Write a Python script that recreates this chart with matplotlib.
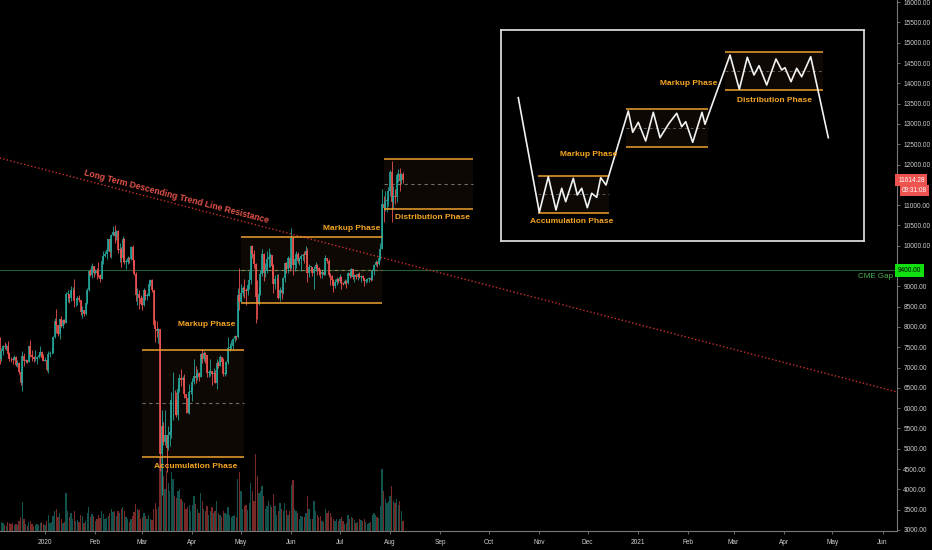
import matplotlib
matplotlib.use('Agg')
import matplotlib.pyplot as plt
import numpy as np
import pandas as pd

plt.rcParams['font.family'] = ['Liberation Sans', 'DejaVu Sans']

# ---------------- data: BTC daily candles, 2019-12-04 .. 2020-08-09 ----------------
start_date = '2019-12-04'
first_open = 7300
closes = [
    # Dec 2019
    7200, 7400, 7530, 7510, 7530, 7340, 7220, 7200, 7190, 7250, 7070, 7110, 6880, 6620,
    7280, 7150, 7190, 7140, 7520, 7320, 7250, 7200, 7200, 7250, 7320, 7390, 7240, 7170,
    # Jan 2020
    7180, 6950, 7340, 7350, 7360, 7760, 8150, 8040, 7820, 8190, 8020, 8180, 8110, 8810, 8810, 8710,
    8900, 8900, 8630, 8630, 8720, 8660, 8380, 8430, 8330, 8590, 8900, 9380, 9290, 9500, 9340,
    # Feb
    9380, 9330, 9290, 9180, 9620, 9750, 9800, 9900, 10160, 9850, 10270, 10350, 10240, 10370, 9900,
    9920, 9700, 10170, 9600, 9610, 9690, 9670, 9960, 9660, 9310, 8780, 8810, 8710, 8560,
    # Mar
    8530, 8910, 8760, 8760, 9070, 9150, 8900, 8040, 7940, 7890, 7950, 4860, 5560, 5170, 5350, 5020,
    5330, 5410, 6190, 6200, 6190, 5830, 6470, 6750, 6700, 6740, 6360, 6250, 5880, 6410, 6420,
    # Apr
    6640, 6800, 6740, 6860, 6780, 7340, 7200, 7370, 7300, 6860, 6890, 6920, 6850, 6860, 6620,
    7110, 7040, 7250, 7130, 6840, 6860, 7130, 7490, 7500, 7540, 7700, 7770, 7760, 8780, 8620,
    # May
    8830, 8970, 8900, 8880, 9030, 9150, 9990, 9810, 9540, 8730, 8570, 8820, 9310, 9790, 9320, 9380,
    9680, 9730, 9780, 9510, 9060, 9170, 9180, 8720, 8900, 8840, 9200, 9570, 9430, 9700, 9450,
    # Jun
    10200, 9520, 9670, 9790, 9620, 9670, 9750, 9780, 9770, 9870, 9320, 9470, 9470, 9340, 9430,
    9520, 9460, 9390, 9310, 9360, 9290, 9690, 9630, 9290, 9250, 9160, 9000, 9110, 9190, 9140,
    # Jul
    9230, 9090, 9070, 9140, 9080, 9340, 9250, 9430, 9240, 9290, 9240, 9300, 9240, 9250, 9200, 9130,
    9160, 9180, 9210, 9160, 9390, 9530, 9610, 9550, 9710, 9930, 11030, 10930, 11100, 11110, 11350,
    # Aug
    11810, 11070, 11230, 11190, 11750, 11770, 11600, 11760, 11614.28,
]
highs = [
    7750, 7480, 7560, 7620, 7580, 7650, 7390, 7270, 7260, 7310, 7290, 7180, 7130, 6940,
    7420, 7360, 7210, 7190, 7530, 7690, 7440, 7280, 7440, 7280, 7360, 7520, 7410, 7330,
    7250, 7200, 7400, 7400, 7500, 7780, 8210, 8450, 8050, 8200, 8270, 8190, 8190, 8870, 8900, 8810,
    9000, 8990, 9190, 8660, 8760, 8790, 8670, 8510, 8430, 8600, 8970, 9400, 9430, 9570, 9500,
    9440, 9460, 9600, 9300, 9730, 9860, 9880, 9950, 10170, 10150, 10290, 10480, 10500, 10390, 10380,
    10060, 9960, 10250, 10200, 9680, 9760, 9720, 9990, 10020, 9660, 9360, 8950, 8900, 8800,
    8750, 8950, 8910, 8840, 9150, 9170, 9190, 8900, 8170, 8150, 7980, 7950, 5950, 5650, 5950, 5350,
    5560, 5430, 6390, 6900, 6460, 6400, 6600, 6840, 6970, 6790, 6850, 6280, 6260, 6600, 6530,
    6740, 7200, 7030, 6970, 6880, 7360, 7470, 7420, 7380, 7310, 6950, 7200, 6920, 6980, 6940,
    7200, 7150, 7300, 7250, 7230, 6950, 7150, 7750, 7600, 7670, 7720, 7800, 7790, 8950, 9460,
    9050, 9010, 9180, 8950, 9070, 9380, 9990, 10030, 9900, 9570, 9160, 8980, 9400, 9930, 9830, 9580,
    9880, 9950, 9830, 9780, 9560, 9270, 9310, 9300, 8980, 9010, 9220, 9610, 9600, 9740, 9700,
    10430, 10230, 9690, 9880, 9850, 9720, 9800, 9800, 9870, 9990, 9950, 9560, 9500, 9480, 9500,
    9590, 9550, 9480, 9440, 9400, 9420, 9780, 9690, 9670, 9320, 9290, 9190, 9170, 9230, 9200,
    9300, 9260, 9120, 9190, 9150, 9360, 9370, 9450, 9440, 9310, 9300, 9320, 9350, 9280, 9270, 9210,
    9180, 9200, 9240, 9220, 9430, 9540, 9640, 9630, 9740, 10080, 11390, 11230, 11340, 11180, 11450,
    11860, 12090, 11480, 11410, 11800, 11900, 11920, 11800, 11820,
]
lows = [
    7080, 7170, 7310, 7460, 7430, 7280, 7170, 7130, 7090, 7190, 7030, 7020, 6850, 6560,
    6430, 7040, 7120, 7110, 7130, 7270, 7160, 7130, 7160, 7080, 7240, 7290, 7210, 7150,
    7150, 6910, 6870, 7270, 7330, 7350, 7730, 7860, 7770, 7700, 8000, 7980, 8070, 8110, 8620, 8600,
    8650, 8800, 8490, 8520, 8550, 8610, 8290, 8220, 8260, 8300, 8570, 8880, 9250, 9200, 9220,
    9300, 9170, 9230, 9100, 9170, 9540, 9730, 9670, 9880, 9730, 9710, 10250, 10080, 10150, 9820,
    9600, 9480, 9600, 9560, 9440, 9560, 9580, 9650, 9520, 9280, 8640, 8530, 8450, 8530,
    8410, 8520, 8660, 8670, 8760, 9020, 8870, 8020, 7640, 7750, 7600, 4450, 3850, 5100, 5100, 4440,
    4960, 5080, 5260, 5700, 5860, 5780, 5700, 6400, 6550, 6540, 6260, 5880, 5870, 5860, 6350,
    6170, 6600, 6620, 6700, 6680, 6780, 7120, 7150, 7120, 6770, 6770, 6800, 6580, 6780, 6610,
    6480, 6990, 7030, 7060, 6800, 6800, 6840, 7080, 7400, 7450, 7470, 7640, 7680, 7730, 8430,
    8610, 8760, 8720, 8530, 8780, 8930, 9050, 9700, 9450, 8110, 8200, 8540, 8780, 9260, 9140, 9220,
    9330, 9480, 9470, 9290, 8830, 8940, 9100, 8700, 8640, 8700, 8810, 9110, 9340, 9340, 9380,
    9420, 9270, 9380, 9460, 9580, 9530, 9380, 9640, 9570, 9690, 9100, 9240, 9400, 9250, 8930,
    9380, 9270, 9280, 9210, 9210, 9280, 9290, 9580, 9220, 9030, 9050, 8850, 8950, 9030, 9090,
    9090, 8940, 9040, 9050, 8960, 9060, 9210, 9240, 9180, 9120, 9190, 9150, 9200, 9120, 9160, 9000,
    9090, 9120, 9120, 9140, 9150, 9280, 9500, 9470, 9530, 9650, 9930, 10580, 10860, 10830, 10970,
    11220, 10580, 10920, 11020, 11080, 11560, 11360, 11530, 11540,
]
volumes = [
    12, 9, 8, 6, 5, 9, 8, 7, 8, 6, 7, 6, 10, 14, 29, 12, 7, 5, 9, 10, 7, 5, 6, 7, 6, 8, 9, 7,
    6, 10, 16, 8, 9, 15, 20, 22, 14, 18, 12, 8, 9, 38, 20, 14, 18, 12, 20, 10, 11, 9, 16, 15, 8, 10,
    18, 24, 14, 17, 15,
    10, 12, 16, 13, 20, 17, 12, 13, 15, 18, 22, 19, 20, 15, 20, 18, 22, 24, 20, 14, 12, 9, 12, 15,
    19, 27, 22, 21, 12,
    14, 18, 15, 12, 16, 12, 11, 22, 28, 22, 24, 100, 115, 55, 42, 60, 48, 40, 59, 52, 35, 33, 40,
    42, 32, 30, 28, 22, 24, 26, 20,
    26, 35, 27, 22, 18, 38, 30, 22, 20, 25, 16, 20, 24, 18, 20, 30, 18, 16, 14, 20, 18, 17, 24, 16,
    14, 15, 16, 14, 52, 59,
    40, 22, 25, 26, 21, 28, 48, 40, 30, 77, 55, 38, 40, 45, 35, 22, 25, 30, 26, 24, 37, 25, 16, 20,
    28, 22, 20, 28, 21, 16, 20,
    46, 51, 22, 20, 18, 12, 15, 14, 14, 18, 35, 22, 12, 12, 30, 20, 16, 14, 15, 10, 9, 22, 18, 20,
    18, 14, 12, 10, 12, 10,
    12, 14, 10, 7, 8, 16, 12, 14, 13, 11, 8, 9, 12, 11, 10, 12, 9, 7, 8, 9, 16, 18, 16, 14, 13, 25,
    62, 40, 32, 28, 30,
    35, 45, 30, 28, 32, 26, 30, 20, 10,
]

# axis ticks (9500 and 11500 are hidden behind the price labels in the reference)
month_dates = ['2020-01-01', '2020-02-01', '2020-03-01', '2020-04-01', '2020-05-01', '2020-06-01',
               '2020-07-01', '2020-08-01', '2020-09-01', '2020-10-01', '2020-11-01', '2020-12-01',
               '2021-01-01', '2021-02-01', '2021-03-01', '2021-04-01', '2021-05-01', '2021-06-01']
month_labels = ['2020', 'Feb', 'Mar', 'Apr', 'May', 'Jun', 'Jul', 'Aug', 'Sep', 'Oct', 'Nov', 'Dec',
                '2021', 'Feb', 'Mar', 'Apr', 'May', 'Jun']
price_ticks = [3000, 3500, 4000, 4500, 5000, 5500, 6000, 6500, 7000, 7500, 8000, 8500, 9000,
               10000, 10500, 11000, 12000, 12500, 13000, 13500, 14000, 14500, 15000, 15500, 16000]

# phase ranges (start date, end date, top, bottom, mid)
box_start = ['2020-03-01', '2020-05-01', '2020-07-28']
box_end = ['2020-05-03', '2020-07-27', '2020-09-21']
box_top = [7440, 10220, 12130]
box_bottom = [4800, 8590, 10910]
box_mid = [6120, 9400, 11520]
box_mid_color = ['#6e6e6e', '#8a8848', '#6e6e6e']

# phase labels
label_texts = ['Accumulation Phase', 'Markup Phase', 'Markup Phase', 'Distribution Phase']
label_dates = ['2020-04-03', '2020-04-10', '2020-07-08', '2020-08-27']
label_prices = [4576, 8049, 10414, 10685]

# trend line and CME gap
trend_dates = ['2019-12-04', '2021-06-10']
trend_prices = [12163, 6399]
trend_label_date = '2020-03-22'
trend_label_price = 11202
cme_gap_price = 9400
last_price = 11614.28
countdown = '09:31:08'

# inset schematic (sketch coordinates)
inset_x = [518.3, 539.3, 548.3, 556, 561.7, 565.7, 573.3, 577.3, 581.7, 587.3, 591.7, 596.7, 600.7,
           606, 628.3, 632.7, 638.3, 645.7, 653.3, 660, 669, 676.7, 681.7, 685.7, 692.7, 702, 705,
           730, 739.3, 747.3, 754, 759, 766.7, 776, 781.7, 785, 791, 796.7, 801.7, 810.7, 828.3]
inset_y = [97.7, 212.3, 176.7, 210, 188.3, 201.7, 178.3, 195, 188.3, 207.7, 193.3, 197.3, 177.7,
           185, 111, 132.3, 122.3, 141, 112.3, 137.7, 123.3, 113.3, 126.7, 121.7, 142.3, 112.3, 124.3,
           55, 89.3, 57.3, 75, 65.7, 85, 59, 70, 67.7, 81.7, 68.3, 76.7, 56.7, 137.7]
inset_box_x0 = [538.3, 626, 725]
inset_box_x1 = [609.3, 708.3, 823.3]
inset_box_top = [175.7, 109.3, 51.7]
inset_box_bottom = [213.3, 147.3, 90.3]
inset_box_mid = [194, 128.3, 71]
inset_label_texts = ['Accumulation Phase', 'Markup Phase', 'Markup Phase', 'Distribution Phase']
inset_label_x = [571.7, 588.3, 689, 774]
inset_label_y = [221.7, 154, 83.7, 100.3]

# ---------------- drawing ----------------
UP, DOWN = '#26a69a', '#ef5350'
ORANGE = '#f0a030'
ORANGE_TXT = '#f5a623'
FILL = '#0d0804'
BG = '#000000'
AXSIZE = 4.7

base = pd.Timestamp('2020-01-01')
def day(d):
    return (pd.Timestamp(d) - base).days

closes = np.array(closes, dtype=float)
highs = np.array(highs, dtype=float)
lows = np.array(lows, dtype=float)
volumes = np.array(volumes, dtype=float)
opens = np.r_[first_open, closes[:-1]]
dates = pd.date_range(start_date, periods=len(closes), freq='D')
x = np.array((dates - base).days, dtype=float)
up = closes >= opens
ccol = np.where(up, UP, DOWN)

fig = plt.figure(figsize=(9.32, 5.5), dpi=100, facecolor=BG)
rect = [0, 1 - 531 / 550, 897 / 932, 531 / 550]
xlim = (-27.8, 525.9)

axv = fig.add_axes(rect, facecolor=BG)
axv.bar(x, volumes, width=0.8, color=ccol, alpha=0.5, linewidth=0)
axv.set_xlim(*xlim)
axv.set_ylim(0, volumes.max() * 4.6)
axv.set_axis_off()

ax = fig.add_axes(rect, facecolor='none')
ax.set_xlim(*xlim)
ax.set_ylim(2975, 16054)

# phase boxes
for s, e, t, b, m, mc in zip(box_start, box_end, box_top, box_bottom, box_mid, box_mid_color):
    x0, x1 = day(s), day(e)
    ax.fill_between([x0, x1], [b, b], [t, t], color=FILL, lw=0, zorder=1)
    ax.hlines([t, b], x0, x1, colors=ORANGE, lw=1.1, zorder=4)
    ax.hlines(m, x0, x1, colors=mc, lw=0.8, linestyles=(0, (3, 3)), zorder=2)

# CME gap line
ax.axhline(cme_gap_price, color='#245f36', lw=0.8, zorder=1.5)

# trend line
ax.plot([day(d) for d in trend_dates], trend_prices, color='#c8302c', lw=1.0,
        ls=(0, (1, 1.6)), zorder=2.5)

# candles
body_lo = np.minimum(opens, closes)
body_hi = np.maximum(np.maximum(opens, closes), body_lo + 20)
ax.vlines(x, lows, highs, colors=ccol, lw=0.6, zorder=3)
ax.vlines(x, body_lo, body_hi, colors=ccol, lw=1.2, zorder=3)

# labels
for t, d, p in zip(label_texts, label_dates, label_prices):
    ax.text(day(d), p, t, color=ORANGE_TXT, fontsize=6, fontweight='bold',
            ha='center', va='center', zorder=6)
ax.text(day(trend_label_date), trend_label_price, 'Long Term Descending Trend Line Resistance',
        color='#e5534b', fontsize=6.2, fontweight='bold', rotation=-14.6,
        rotation_mode='anchor', ha='center', va='center', zorder=6)
ytr = ax.get_yaxis_transform()
ax.text(0.996, cme_gap_price - 145, 'CME Gap', transform=ytr, color='#4caf50', fontsize=5.8,
        ha='right', va='center', zorder=6)

# axes styling
ax.set_xticks([day(d) for d in month_dates])
ax.set_xticklabels(month_labels)
ax.set_yticks(price_ticks)
ax.set_yticklabels(['%.2f' % v for v in price_ticks])
ax.yaxis.tick_right()
for sp in ('top', 'left'):
    ax.spines[sp].set_visible(False)
for sp in ('right', 'bottom'):
    ax.spines[sp].set_color('#777777')
    ax.spines[sp].set_linewidth(0.8)
ax.tick_params(axis='both', colors='#777777', labelcolor='#d0d0d0', labelsize=AXSIZE,
               length=2.5, width=0.6)
ax.tick_params(axis='y', pad=2)
ax.tick_params(axis='x', pad=3.5)

# price-axis labels
ax.text(1.0012, cme_gap_price, '9400.00', transform=ytr, color='#000000', fontsize=AXSIZE,
        ha='left', va='center', clip_on=False, zorder=10,
        bbox=dict(boxstyle='square,pad=0.45', fc='#10e010', ec='none'))
ax.text(1.0012, last_price, '%.2f' % last_price, transform=ytr, color='#ffffff', fontsize=AXSIZE,
        ha='left', va='center', clip_on=False, zorder=10,
        bbox=dict(boxstyle='square,pad=0.4', fc='#ef5350', ec='none'))
ax.text(1.0055, last_price - 245, countdown, transform=ytr, color='#ffffff', fontsize=AXSIZE,
        ha='left', va='center', clip_on=False, zorder=10,
        bbox=dict(boxstyle='square,pad=0.3', fc='#ef5350', ec='none'))

# inset schematic
axi = fig.add_axes([501 / 932, 1 - 241 / 550, 363 / 932, 211 / 550], facecolor=BG)
axi.set_xlim(501, 864)
axi.set_ylim(241, 30)
axi.set_xticks([])
axi.set_yticks([])
for sp in axi.spines.values():
    sp.set_color('#d8d8d8')
    sp.set_linewidth(1.3)
for x0, x1, t, b, m in zip(inset_box_x0, inset_box_x1, inset_box_top, inset_box_bottom, inset_box_mid):
    axi.fill_between([x0, x1], [b, b], [t, t], color=FILL, lw=0, zorder=1)
    axi.hlines([t, b], x0, x1, colors=ORANGE, lw=1.1, zorder=3)
    axi.hlines(m, x0, x1, colors='#5a5a5a', lw=0.7, linestyles=(0, (3, 3)), zorder=2)
axi.plot(inset_x, inset_y, color='#f2f2f2', lw=1.2, zorder=4)
for t, xx, yy in zip(inset_label_texts, inset_label_x, inset_label_y):
    axi.text(xx, yy, t, color=ORANGE_TXT, fontsize=6, fontweight='bold',
             ha='center', va='center', zorder=5)

fig.savefig('out.png', dpi=100, facecolor=BG)
